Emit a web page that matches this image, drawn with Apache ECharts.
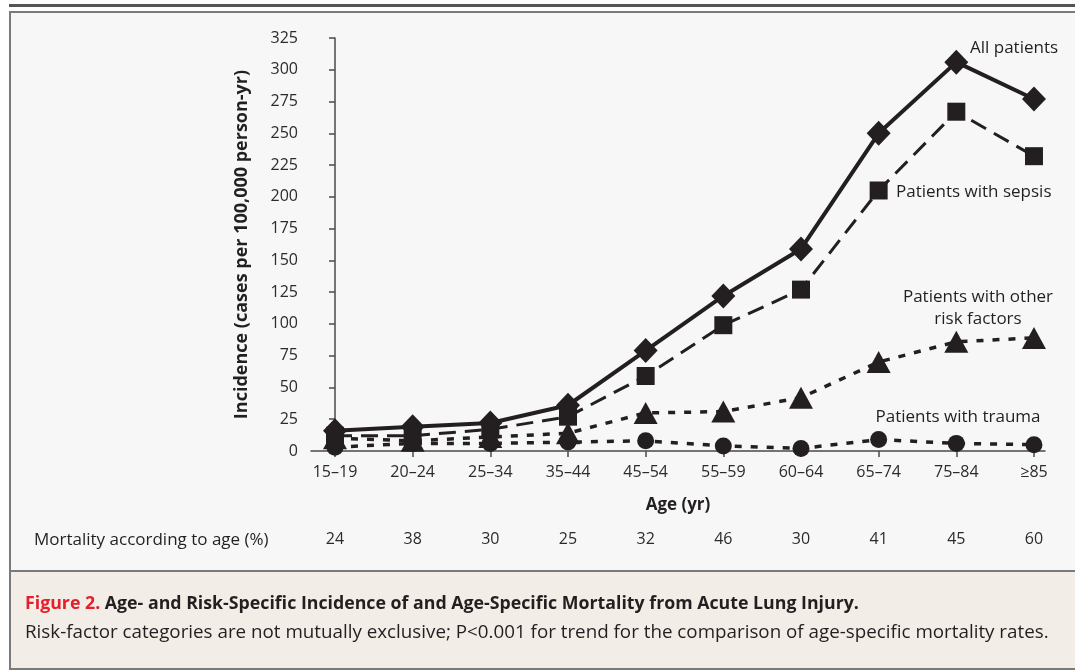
<!DOCTYPE html>
<html>
<head>
<meta charset="utf-8">
<script src="https://cdn.jsdelivr.net/npm/echarts@6/dist/echarts.min.js"></script>
<style>
  html, body { margin: 0; padding: 0; background: #fff; }
  #chart { width: 1075px; height: 671px; }
</style>
</head>
<body>
<div id="chart"></div>
<script>
// age groups on the x axis
var ageGroups = ["15–19", "20–24", "25–34", "35–44", "45–54", "55–59", "60–64", "65–74", "75–84", "≥85"];
// incidence, cases per 100,000 person-yr
var allPatients = [16, 19, 22, 36, 79, 122, 159, 250, 306, 277];
var sepsis = [12, 12, 17, 27, 59, 99, 127, 205, 267, 232];
var otherRisk = [10, 8, 11, 14, 30, 31, 42, 70, 86, 89];
var trauma = [3, 6, 6, 7, 8, 4, 2, 9, 6, 5];
// mortality according to age (%)
var mortality = [24, 38, 30, 25, 32, 46, 30, 41, 45, 60];
var yTicks = [0, 25, 50, 75, 100, 125, 150, 175, 200, 225, 250, 275, 300, 325];

var ink = "#231f20";
var font = "'Open Sans', 'Noto Sans', sans-serif";
var idx = ageGroups.map(function (g, i) { return i; });

function pts(arr) {
  return arr.map(function (v, i) { return [i, v]; });
}

function label(txt, x, y, align) {
  return {
    type: "text", x: x, y: y,
    style: { text: txt, font: "17px " + font, fill: ink, align: align || "left", verticalAlign: "middle" },
  };
}

var myChart = echarts.init(document.getElementById("chart"));
myChart.setOption({
  backgroundColor: "#ffffff",
  animation: false,
  textStyle: { fontFamily: font },
  grid: { left: 311, right: 30, top: 38, bottom: 220 },
  xAxis: [
    {
      type: "value",
      min: -0.309,
      max: 9.142,
      name: "Age (yr)",
      nameLocation: "middle",
      nameGap: 46,
      nameTextStyle: { color: ink, fontSize: 17, fontWeight: "bold", fontFamily: font },
      splitLine: { show: false },
      axisLine: { show: true, lineStyle: { color: "#4a4a4a", width: 1.5 } },
      axisTick: { show: true, customValues: idx, length: 6, lineStyle: { color: "#4a4a4a", width: 1.5 } },
      axisLabel: {
        customValues: idx,
        margin: 13,
        color: "#2b2b2b",
        fontSize: 16,
        formatter: function (v) { return ageGroups[Math.round(v)]; },
      },
    },
    {
      // mortality row, sits under the age axis
      type: "value",
      position: "bottom",
      offset: 76,
      min: -0.309,
      max: 9.142,
      splitLine: { show: false },
      axisLine: { show: false },
      axisTick: { show: false },
      axisLabel: {
        customValues: idx,
        margin: 4,
        color: "#2b2b2b",
        fontSize: 16,
        formatter: function (v) { return String(mortality[Math.round(v)]); },
      },
    },
  ],
  yAxis: {
    type: "value",
    min: 0,
    max: 325,
    interval: 25,
    name: "Incidence (cases per 100,000 person-yr)",
    nameLocation: "middle",
    nameGap: 60,
    nameTextStyle: { color: ink, fontSize: 18, fontWeight: "bold", fontFamily: font },
    splitLine: { show: false },
    axisLine: { show: true, lineStyle: { color: "#4a4a4a", width: 1.5 } },
    axisTick: { show: true, length: 6, lineStyle: { color: "#4a4a4a", width: 1.5 } },
    axisLabel: {
      color: "#2b2b2b",
      fontSize: 16,
      margin: 13,
      formatter: function (v) { return yTicks.indexOf(v) >= 0 ? String(v) : ""; },
    },
  },
  series: [
    {
      name: "Patients with trauma",
      type: "line",
      data: pts(trauma),
      symbol: "circle",
      symbolSize: 17,
      itemStyle: { color: ink },
      lineStyle: { color: ink, width: 3.5, type: [7, 9] },
      z: 2,
    },
    {
      name: "Patients with other risk factors",
      type: "line",
      data: pts(otherRisk),
      symbol: "triangle",
      symbolSize: [24, 22],
      itemStyle: { color: ink },
      lineStyle: { color: ink, width: 3.5, type: [7, 9] },
      z: 3,
    },
    {
      name: "Patients with sepsis",
      type: "line",
      data: pts(sepsis),
      symbol: "rect",
      symbolSize: 18,
      itemStyle: { color: ink },
      lineStyle: { color: ink, width: 3, type: [17, 9] },
      z: 4,
    },
    {
      name: "All patients",
      type: "line",
      data: pts(allPatients),
      symbol: "diamond",
      symbolSize: [24, 25],
      itemStyle: { color: ink },
      lineStyle: { color: ink, width: 4 },
      z: 5,
    },
  ],
  graphic: [
    // frame
    { type: "rect", shape: { x: 9, y: 4, width: 1066, height: 3 }, style: { fill: "#555" }, silent: true },
    { type: "rect", shape: { x: 10, y: 12, width: 1070, height: 657 }, style: { fill: "#f7f7f7", stroke: "#7a7a7a", lineWidth: 2 }, z: -10, silent: true },
    { type: "rect", shape: { x: 10, y: 571, width: 1070, height: 98 }, style: { fill: "#f2ede7", stroke: "#7a7a7a", lineWidth: 2 }, z: -9, silent: true },
    // series labels
    label("All patients", 970, 48),
    label("Patients with sepsis", 896, 192),
    label("Patients with other", 978, 297, "center"),
    label("risk factors", 978, 319, "center"),
    label("Patients with trauma", 958, 417, "center"),
    // mortality row title
    label("Mortality according to age (%)", 34, 540),
    // caption
    {
      type: "text",
      x: 25,
      y: 604,
      style: {
        text: "{r|Figure 2.} {b|Age- and Risk-Specific Incidence of and Age-Specific Mortality from Acute Lung Injury.}",
        rich: {
          r: { font: "bold 17.75px " + font, fill: "#e3202b" },
          b: { font: "bold 17.75px " + font, fill: ink },
        },
        font: "bold 17.75px " + font,
        verticalAlign: "middle",
      },
    },
    {
      type: "text",
      x: 25,
      y: 633,
      style: {
        text: "Risk-factor categories are not mutually exclusive; P<0.001 for trend for the comparison of age-specific mortality rates.",
        font: "18.8px " + font,
        fill: ink,
        verticalAlign: "middle",
      },
    },
  ],
});
</script>
</body>
</html>
